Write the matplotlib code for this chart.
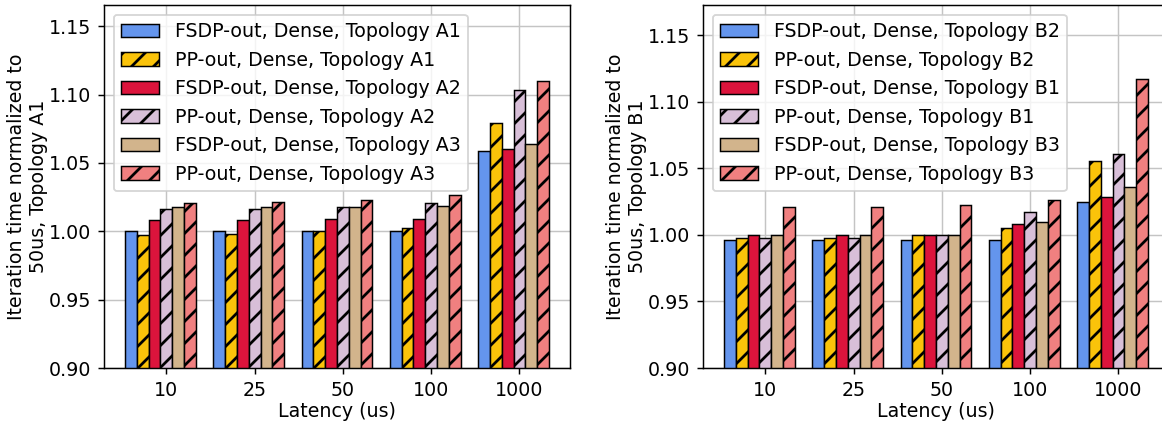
import matplotlib
matplotlib.use("Agg")
import matplotlib.pyplot as plt
import numpy as np

latencies = ["10", "25", "50", "100", "1000"]

labels_a = ["FSDP-out, Dense, Topology A1", "PP-out, Dense, Topology A1",
            "FSDP-out, Dense, Topology A2", "PP-out, Dense, Topology A2",
            "FSDP-out, Dense, Topology A3", "PP-out, Dense, Topology A3"]
labels_b = ["FSDP-out, Dense, Topology B2", "PP-out, Dense, Topology B2",
            "FSDP-out, Dense, Topology B1", "PP-out, Dense, Topology B1",
            "FSDP-out, Dense, Topology B3", "PP-out, Dense, Topology B3"]

fsdp_a1 = [1.000, 1.000, 1.0005, 1.0005, 1.0586]
pp_a1 = [0.9976, 0.998, 1.0005, 1.0024, 1.0792]
fsdp_a2 = [1.0085, 1.0085, 1.009, 1.0093, 1.0603]
pp_a2 = [1.0166, 1.016, 1.0176, 1.0205, 1.1032]
fsdp_a3 = [1.0176, 1.0176, 1.0176, 1.0185, 1.0635]
pp_a3 = [1.021, 1.0215, 1.023, 1.0263, 1.110]

fsdp_b2 = [0.9958, 0.9958, 0.9958, 0.996, 1.0248]
pp_b2 = [0.9978, 0.998, 1.000, 1.0055, 1.0555]
fsdp_b1 = [1.000, 1.000, 1.000, 1.0078, 1.0285]
pp_b1 = [0.9978, 0.998, 1.000, 1.0175, 1.061]
fsdp_b3 = [1.000, 1.000, 1.000, 1.0095, 1.0358]
pp_b3 = [1.0208, 1.0208, 1.0228, 1.026, 1.1168]

series_a = [fsdp_a1, pp_a1, fsdp_a2, pp_a2, fsdp_a3, pp_a3]
series_b = [fsdp_b2, pp_b2, fsdp_b1, pp_b1, fsdp_b3, pp_b3]

colors = ["#6495ED", "#FAC30A", "#DC143C", "#D8BFD8", "#D2B48C", "#F08080"]
hatches = [None, "//", None, "//", None, "//"]

FS = 10.4
plt.rcParams["font.family"] = ["DejaVu Sans"]
plt.rcParams["font.size"] = FS
plt.rcParams["hatch.linewidth"] = 1.5

fig = plt.figure(figsize=(1162 / 132, 422 / 132), dpi=132)
ax1 = fig.add_axes([104 / 1162, 54 / 422, 466 / 1162, 363 / 422])
ax2 = fig.add_axes([703 / 1162, 54 / 422, 466 / 1162, 363 / 422])

x = np.arange(len(latencies))
w = 0.8 / 6

for ax, series, labels, ylab in [(ax1, series_a, labels_a, "Iteration time normalized to\n50us, Topology A1"),
                                 (ax2, series_b, labels_b, "Iteration time normalized to\n50us, Topology B1")]:
    ax.set_axisbelow(True)
    ax.grid(True, color="#c4c4c4", linewidth=0.8)
    for i, (vals, lab) in enumerate(zip(series, labels)):
        ax.bar(x + (i - 3) * w, vals, width=w, color=colors[i], edgecolor="black",
               linewidth=0.8, hatch=hatches[i], label=lab)
    ax.set_xticks(x)
    ax.set_xticklabels(latencies)
    ymax = max(max(s) for s in series)
    ax.set_ylim(0.90, ymax * 1.05)
    ax.set_yticks([0.90, 0.95, 1.00, 1.05, 1.10, 1.15])
    ax.set_xlabel("Latency (us)", fontsize=FS, labelpad=1)
    ax.set_ylabel(ylab, fontsize=FS, labelpad=0.5)
    ax.tick_params(labelsize=FS)
    ax.legend(loc="upper left", fontsize=FS, framealpha=0.8)

fig.savefig("out.png", dpi=132)
